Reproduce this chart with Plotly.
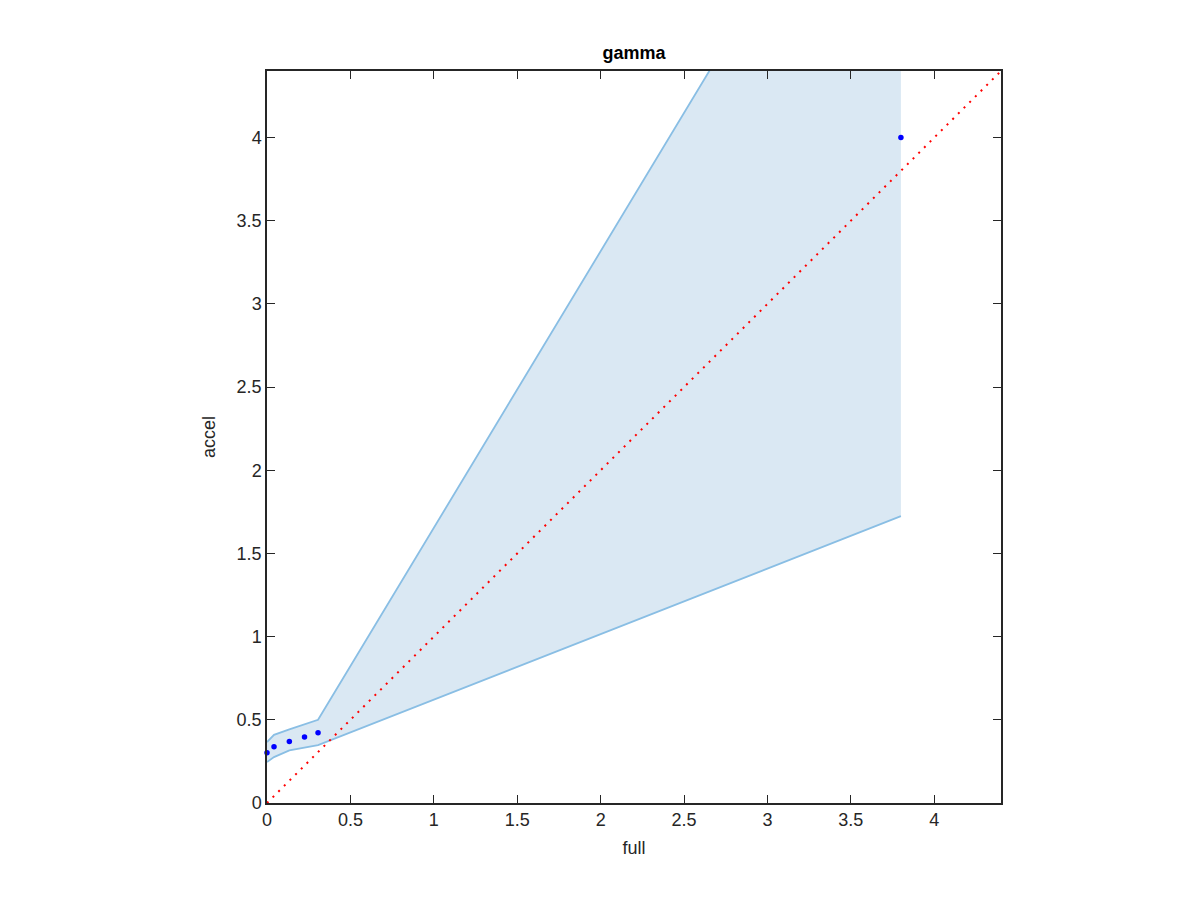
import plotly.graph_objects as go

# data
x_pts = [0.0, 0.042, 0.134, 0.225, 0.306, 3.80]
y_pts = [0.302, 0.338, 0.370, 0.396, 0.422, 4.00]
upper = [0.366, 0.41, 0.443, 0.473, 0.50, 6.31]
lower = [0.246, 0.276, 0.316, 0.332, 0.348, 1.724]
diag = [0, 4.4]
x_ticks = [0, 0.5, 1, 1.5, 2, 2.5, 3, 3.5, 4]
y_ticks = [0, 0.5, 1, 1.5, 2, 2.5, 3, 3.5, 4]

fill_col = "rgb(218,232,243)"
edge_col = "rgb(137,190,228)"

fig = go.Figure()
fig.add_trace(go.Scatter(x=x_pts + x_pts[::-1], y=upper + lower[::-1], fill="toself",
                         fillcolor=fill_col, line=dict(width=0), mode="lines",
                         hoverinfo="skip", showlegend=False))
fig.add_trace(go.Scatter(x=x_pts, y=upper, mode="lines", line=dict(color=edge_col, width=1.8),
                         showlegend=False))
fig.add_trace(go.Scatter(x=x_pts, y=lower, mode="lines", line=dict(color=edge_col, width=1.8),
                         showlegend=False))
fig.add_trace(go.Scatter(x=diag, y=diag, mode="lines",
                         line=dict(color="red", width=2, dash="2px,6px"),
                         showlegend=False))
fig.add_trace(go.Scatter(x=x_pts, y=y_pts, mode="markers", marker=dict(color="blue", size=5.5),
                         cliponaxis=False, showlegend=False))

axis_common = dict(range=[0, 4.4], showgrid=False, zeroline=False, showline=True, mirror="ticks",
                   linecolor="#262626", linewidth=1.5, ticks="inside", ticklen=8, tickcolor="#262626",
                   tickfont=dict(size=18, color="#262626"))
fig.update_layout(
    width=1200, height=900,
    paper_bgcolor="white", plot_bgcolor="white",
    margin=dict(l=259, r=207, t=63, b=105),
    font=dict(family="Liberation Sans, Arial, sans-serif", color="#262626"),
    title=dict(text="<b>gamma</b>", x=(259 + 367) / 1200, xanchor="center", y=1 - 45 / 900,
               yanchor="middle", font=dict(size=18, color="black")),
    xaxis=dict(axis_common, tickvals=x_ticks, ticktext=[f"{v:g}" for v in x_ticks],
               title=dict(text="full", font=dict(size=18), standoff=12)),
    yaxis=dict(axis_common, tickvals=y_ticks, ticktext=[f"{v:g}" for v in y_ticks],
               title=dict(text="accel", font=dict(size=18), standoff=16)),
)
fig.write_html("out.html")
